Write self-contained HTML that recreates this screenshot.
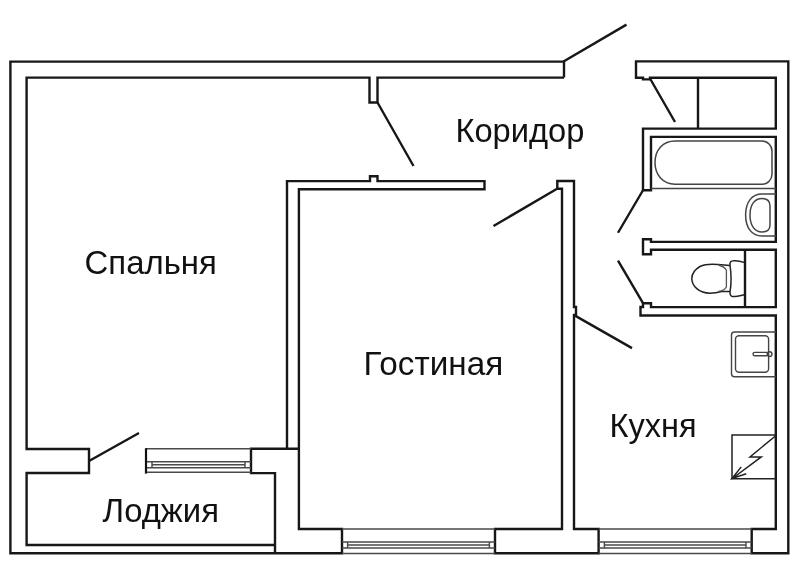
<!DOCTYPE html>
<html><head><meta charset="utf-8">
<style>
html,body{margin:0;padding:0;background:#fff;}
svg{display:block;will-change:transform;}
text{font-family:"Liberation Sans",sans-serif;fill:#111;}
</style></head>
<body>
<svg width="800" height="578" viewBox="0 0 800 578">
<rect width="800" height="578" fill="#fff"/>
<g fill="none" stroke="#171717" stroke-width="2.4" stroke-linejoin="miter" stroke-linecap="butt">
<path d="M564,77.6 V61.6 H10.4 V553.3 H342 V529 H298.9 V189.2 H484.5 V181.1 H377.5 V176.3 H370 V181.1 H287 V448.75 H251 V473.1 H275 V553.3"/>
<path d="M564,77.6 H377.5 V102.5 H369.5 V77.6 H26.6 V449 H89 V473 H26.6 V545 H275"/>
<path d="M495,553.3 V529 H562 V188.7 H557.3 V181 H574 V307 H576 V315 H574 V529 H598.6 V553.3 Z"/>
<path d="M751.7,553.3 V529 H775.8 V315.5 H640.5 V307 H643 V303.3 H651 V307.1 H775.8 V249.8 H651 V254.3 H643 V239.2 H651 V241.9 H775.8 V136.9 H651 V190.25 H643 V128.6 H775.8 V77.7 H650 V79.4 H643 V77.7 H636 V61.4 H788.3 V553.3 Z"/>
<path d="M698,77.7 V128.6 M745,250 V307 M287,448.75 H298.9"/>
<path d="M563.5,61.5 L626.5,24.6 M377.5,102.5 L413.5,166 M557.5,188.5 L493.5,226 M650,78.5 L675,122 M643,190.25 L618,232.75 M618,260.6 L643,303.1 M575,315.6 L632,348.1 M89,461 L139,433"/>
</g>
<!-- windows -->
<g fill="none" stroke="#4a4a4a" stroke-width="1.45">
<path d="M146,448.8 H251 M146,472.2 H251 M146,461.8 H251 M152,464.7 H245 M146,467.8 H251 M152,461.8 V467.8 M245,461.8 V467.8"/>
<path d="M342,529 H495 M342,553.4 H495 M342,542 H495 M347.6,544.9 H489.4 M342,548 H495 M347.6,542 V548 M489.4,542 V548"/>
<path d="M598.6,529 H751.7 M598.6,553.4 H751.7 M598.6,542 H751.7 M604.4,544.9 H746 M598.6,548 H751.7 M604.4,542 V548 M746,542 V548"/>
</g>
<path d="M146,448.2 V473.6" stroke="#111" stroke-width="2.2"/>
<!-- bathroom -->
<g fill="none" stroke="#444" stroke-width="1.5">
<path d="M651,188.5 H776" stroke-width="1.7"/>
<path d="M675,141 H762 A10,10 0 0 1 772,151 V174 A10,10 0 0 1 762,184.2 H675 C663,184.2 655,175 655,162.6 C655,150 663,141 675,141 Z"/>
<path d="M776,194 H762 C752,194 745.6,202 745.6,215 C745.6,228 752,236 762,236 H776"/>
<path d="M762,198.5 C767,198.5 770,201 770,206 V225 C770,229.5 767,232 762,232 C755,232 750,226 750,215 C750,204 755,198.5 762,198.5 Z"/>
</g>
<!-- toilet -->
<g fill="none" stroke="#222" stroke-width="1.5">
<path d="M745,262.6 C740,261 735,260.5 732.8,260.8 C730.5,261 729.8,263 730,265 C731.5,275 731.5,283 730,292 C729.8,295 731,296.6 733,296.6 C737,296.6 741,295.5 745,294.6"/>
<path d="M730,265.4 L718,264.5 C712,264 705,264 700,266.5 C694,270 691.8,274 691.8,278.6 C691.8,286 699,293.2 710,293.2 C714,293.2 718,292.5 722,291.5 L730,291.4"/>
<path d="M718.4,265 C722,266 725,267.5 726.4,270.2 V287 C725,289.5 722,291 718.4,291.4" stroke="#555" stroke-width="1.3"/>
</g>
<!-- kitchen sink -->
<g fill="none" stroke="#444" stroke-width="1.4">
<path d="M776,332 H734.5 Q731.5,332 731.5,335 V373.7 Q731.5,376.7 734.5,376.7 H776"/>
<rect x="735.5" y="335.8" width="33.1" height="36.4" rx="3.5"/>
<rect x="753" y="352.4" width="15" height="3.4" rx="1.7"/>
<circle cx="769.6" cy="354.1" r="2.4"/>
</g>
<!-- stove -->
<g fill="none" stroke="#222" stroke-width="1.5">
<path d="M776,435 H732 V478.75 H776"/>
<path d="M776,435.5 L750,456.9 L761.25,456.9 L732,478.75 M741.25,466.9 L732,478.5 L746.25,473.75"/>
</g>
<!-- labels -->
<text x="455.4" y="142.4" font-size="34" textLength="129" lengthAdjust="spacingAndGlyphs">Коридор</text>
<text x="84.6" y="273.5" font-size="34" textLength="132.2" lengthAdjust="spacingAndGlyphs">Спальня</text>
<text x="363.5" y="375" font-size="34" textLength="139.7" lengthAdjust="spacingAndGlyphs">Гостиная</text>
<text x="609.5" y="436.5" font-size="34" textLength="87" lengthAdjust="spacingAndGlyphs">Кухня</text>
<text x="102.6" y="521.5" font-size="34" textLength="116.4" lengthAdjust="spacingAndGlyphs">Лоджия</text>
</svg>
</body></html>
